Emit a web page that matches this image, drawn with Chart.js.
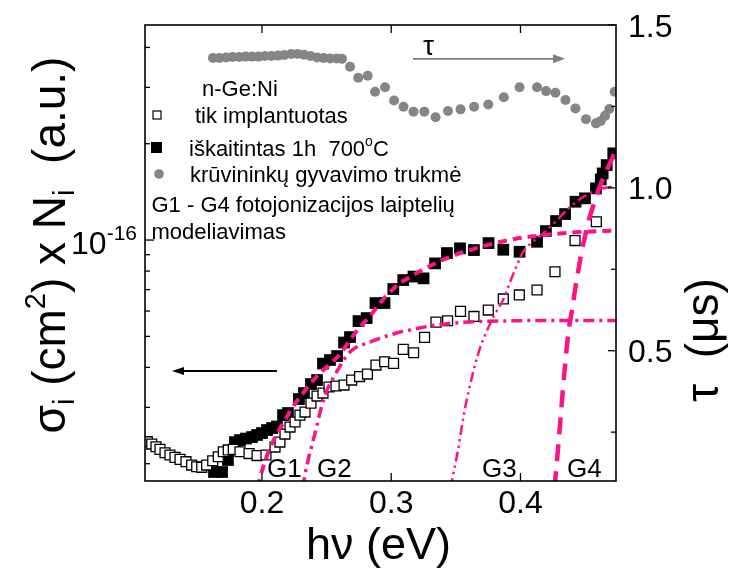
<!DOCTYPE html>
<html><head><meta charset="utf-8">
<script src="https://cdn.jsdelivr.net/npm/chart.js@4/dist/chart.umd.min.js"></script>
<style>html,body{margin:0;padding:0;background:#fff}#wrap{width:730px;height:570px}</style>
</head><body><div id="wrap"><canvas id="c" width="730" height="570"></canvas></div>
<script>
const FONT = '"Liberation Sans", Arial, Helvetica, sans-serif';
const PINK = '#ff1188';
const GRAY = '#858585';

// axis ranges and ticks
const xMin = 0.1095, xMax = 0.4739;
const yMin = 1.766e-17, yMax = 4.70e-16;
const tauMin = 0.1, tauMax = 1.5;
const xTicks = [0.2, 0.3, 0.4];
const xTickLabels = ['0.2', '0.3', '0.4'];
const yMajorTicks = [1e-16];
const yMinorTicks = [2e-17, 3e-17, 4e-17, 5e-17, 6e-17, 7e-17, 8e-17, 9e-17, 2e-16, 3e-16, 4e-16];
const tauMajorTicks = [0.5, 1.0, 1.5];
const tauTickLabels = ['0.5', '1.0', '1.5'];
const tauMinorTicks = [0.25, 0.75, 1.25];

// "tik implantuotas" (open squares)
const openX = [0.1113,0.1147,0.1180,0.1211,0.1250,0.1288,0.1327,0.1366,0.1412,0.1456,
  0.1495,0.1534,0.1572,0.1619,0.1662,0.1701,0.1739,0.1778,0.1830,0.1900,
  0.1962,0.2031,0.2101,0.2139,0.2178,0.2217,0.2256,0.2294,0.2333,0.2379,
  0.2426,0.2472,0.2519,0.2573,0.2635,0.2694,0.2755,0.2816,0.2882,0.2949,
  0.3018,0.3093,0.3173,0.3258,0.3346,0.3436,0.3536,0.3640,0.3751,0.3867,
  0.3991,0.4128,0.4267,0.4422,0.4587];
const openY = [2.343e-17,2.304e-17,2.260e-17,2.218e-17,2.164e-17,2.129e-17,2.094e-17,2.064e-17,2.029e-17,1.981e-17,
  1.957e-17,1.949e-17,1.981e-17,2.043e-17,2.103e-17,2.180e-17,2.208e-17,2.218e-17,2.180e-17,2.152e-17,
  2.121e-17,2.129e-17,2.255e-17,2.337e-17,2.476e-17,2.604e-17,2.700e-17,2.838e-17,2.901e-17,3.094e-17,
  3.254e-17,3.326e-17,3.473e-17,3.498e-17,3.523e-17,3.652e-17,3.745e-17,3.813e-17,4.068e-17,4.166e-17,
  4.118e-17,4.555e-17,4.445e-17,4.965e-17,5.542e-17,5.596e-17,5.986e-17,5.770e-17,6.043e-17,6.545e-17,
  6.736e-17,6.981e-17,7.962e-17,9.964e-17,1.1408e-16];

// "iškaitintas 1h 700°C" (filled squares)
const filledX = [0.1629,0.1691,0.1737,0.1791,0.1830,0.1876,0.1923,0.1962,0.2000,0.2039,
  0.2078,0.2116,0.2163,0.2201,0.2286,0.2325,0.2379,0.2426,0.2472,0.2526,
  0.2581,0.2635,0.2681,0.2747,0.2810,0.2878,0.2948,0.3016,0.3093,0.3172,
  0.3250,0.3339,0.3431,0.3532,0.3640,0.3753,0.3867,0.3993,0.4128,0.4197,
  0.4275,0.4345,0.4426,0.4499,0.4584,0.4621,0.4636,0.4667,0.4718];
const filledY = [1.884e-17,1.884e-17,2.054e-17,2.337e-17,2.371e-17,2.397e-17,2.423e-17,2.459e-17,2.494e-17,2.548e-17,
  2.585e-17,2.614e-17,2.838e-17,2.880e-17,3.185e-17,3.326e-17,3.548e-17,3.652e-17,4.111e-17,4.217e-17,
  4.340e-17,4.783e-17,4.975e-17,5.582e-17,5.704e-17,6.355e-17,6.355e-17,7.030e-17,7.499e-17,7.690e-17,
  7.591e-17,8.455e-17,9.107e-17,9.421e-17,9.306e-17,9.786e-17,9.326e-17,9.193e-17,9.878e-17,1.0669e-16,
  1.1466e-16,1.2058e-16,1.3176e-16,1.3502e-16,1.4504e-16,1.5474e-16,1.6156e-16,1.7154e-16,1.8663e-16];

// carrier lifetime tau (us), right axis
const tauX = [0.1621,0.1671,0.1722,0.1772,0.1822,0.1873,0.1923,0.1973,0.2023,0.2074,0.2124,0.2174,0.2225,0.2275,0.2325,0.2376,0.2426,0.2476,0.2526,0.2577,0.2619,
  0.2681,0.2745,0.2818,0.2875,0.2952,0.3022,0.3095,0.3172,0.3256,0.3343,0.3439,0.3536,0.3641,0.3751,0.3871,0.3993,0.4128,0.4198,0.4270,0.4348,0.4425,0.4507,0.4584,0.4621,0.4654,0.4687,0.4729];
const tauY = [1.399,1.399,1.400,1.402,1.402,1.403,1.403,1.403,1.405,1.405,1.406,1.408,1.411,1.411,1.409,1.405,1.400,1.399,1.397,1.397,1.396,
  1.372,1.338,1.344,1.295,1.309,1.268,1.249,1.234,1.234,1.217,1.236,1.241,1.249,1.256,1.278,1.309,1.309,1.297,1.292,1.270,1.244,1.211,1.198,1.205,1.221,1.242,1.295];

// G1 - G4 photoionisation step modelling curves
const g1X = [0.1966,0.2000,0.2062,0.2124,0.2178,0.2232,0.2294,0.2372,0.2449,0.2526,0.2604,0.2681,0.2758,0.2836,0.2913,0.2991,0.3068,0.3145,0.3223,0.3300,0.3377,0.3455,0.3532,0.3610,0.3687,0.3842,0.3996,0.4151,0.4306,0.4461,0.4615,0.4770];
const g1Y = [1.679e-17,1.897e-17,2.239e-17,2.512e-17,2.738e-17,2.985e-17,3.231e-17,3.548e-17,3.841e-17,4.097e-17,4.401e-17,4.870e-17,5.346e-17,5.788e-17,6.355e-17,6.879e-17,7.338e-17,7.662e-17,8.000e-17,8.293e-17,8.598e-17,8.849e-17,9.107e-17,9.306e-17,9.509e-17,9.857e-17,1.0145e-16,1.0329e-16,1.0479e-16,1.0593e-16,1.0669e-16,1.0707e-16];
const g2X = [0.2314,0.2348,0.2387,0.2426,0.2464,0.2503,0.2542,0.2604,0.2658,0.2720,0.2774,0.2836,0.2913,0.2991,0.3068,0.3184,0.3300,0.3416,0.3532,0.3687,0.3842,0.4151,0.4770];
const g2Y = [1.679e-17,1.981e-17,2.288e-17,2.641e-17,3.050e-17,3.398e-17,3.652e-17,4.039e-17,4.371e-17,4.597e-17,4.698e-17,4.800e-17,4.940e-17,5.048e-17,5.158e-17,5.272e-17,5.387e-17,5.464e-17,5.524e-17,5.564e-17,5.584e-17,5.604e-17,5.604e-17];
const g3X = [0.3459,0.3486,0.3517,0.3548,0.3579,0.3610,0.3648,0.3687,0.3726,0.3764,0.3803,0.3865,0.3919,0.3973,0.4020,0.4074,0.4151,0.4229,0.4306,0.4383,0.4461,0.4538,0.4615,0.4693,0.4770];
const g3Y = [1.679e-17,1.910e-17,2.207e-17,2.641e-17,3.096e-17,3.522e-17,4.068e-17,4.597e-17,5.048e-17,5.464e-17,5.870e-17,6.494e-17,7.392e-17,8.356e-17,9.173e-17,9.716e-17,1.0292e-16,1.0981e-16,1.1800e-16,1.2679e-16,1.3428e-16,1.4024e-16,1.4424e-16,1.4642e-16,1.4748e-16];
const g4X = [0.4263,0.4283,0.4298,0.4314,0.4329,0.4345,0.4360,0.4375,0.4399,0.4422,0.4445,0.4476,0.4507,0.4538,0.4577,0.4615,0.4654,0.4693,0.4731,0.4770];
const g4Y = [1.679e-17,2.054e-17,2.423e-17,2.901e-17,3.447e-17,4.068e-17,4.698e-17,5.309e-17,6.043e-17,6.981e-17,7.943e-17,9.306e-17,1.0593e-16,1.1885e-16,1.3335e-16,1.4748e-16,1.6077e-16,1.7402e-16,1.8836e-16,2.0244e-16];

// annotation anchors (data space)
const gLabels = ['G1', 'G2', 'G3', 'G4'];
const gLabelX = [0.2039, 0.2426, 0.3702, 0.4360];
const gLabelY = 1.82e-17;
const tauArrow = {from: 0.3168, to: 0.4345, at: 1.396};
const tauArrowLabel = {x: 0.3246, y: 1.408};
const leftArrow = {from: 0.2116, to: 0.1304, at: 3.9e-17};

const zip = (xs, ys) => xs.map((v, i) => ({x: v, y: ys[i]}));
const curve = (label, xs, ys, dash, w, order) => ({
  label, data: zip(xs, ys), showLine: true, pointRadius: 0, borderColor: PINK,
  borderWidth: w, borderDash: dash, cubicInterpolationMode: 'monotone', fill: false, order, clip: 0
});

function drawRich(ctx, parts, x, y, align, rot) {
  ctx.save();
  ctx.translate(x, y);
  if (rot) ctx.rotate(rot);
  let w = 0;
  for (const p of parts) { ctx.font = p.s + 'px ' + FONT; w += ctx.measureText(p.t).width; }
  let cx = align === 'center' ? -w / 2 : (align === 'right' ? -w : 0);
  ctx.textAlign = 'left';
  ctx.textBaseline = 'alphabetic';
  for (const p of parts) {
    ctx.font = p.s + 'px ' + FONT;
    ctx.fillText(p.t, cx, p.dy || 0);
    cx += ctx.measureText(p.t).width;
  }
  ctx.restore();
}

function arrow(ctx, x0, y0, x1, y1, color, lw, hl, hw) {
  const ang = Math.atan2(y1 - y0, x1 - x0);
  ctx.save();
  ctx.strokeStyle = color; ctx.fillStyle = color; ctx.lineWidth = lw;
  ctx.beginPath(); ctx.moveTo(x0, y0);
  ctx.lineTo(x1 - Math.cos(ang) * hl * 0.8, y1 - Math.sin(ang) * hl * 0.8); ctx.stroke();
  ctx.translate(x1, y1); ctx.rotate(ang);
  ctx.beginPath(); ctx.moveTo(0, 0); ctx.lineTo(-hl, -hw); ctx.lineTo(-hl, hw); ctx.closePath(); ctx.fill();
  ctx.restore();
}

const decor = {
  id: 'decor',
  afterDatasetsDraw(chart) {
    const ctx = chart.ctx, a = chart.chartArea;
    const sx = chart.scales.x, sy = chart.scales.y, st = chart.scales.y2;
    ctx.save();
    ctx.strokeStyle = '#000'; ctx.lineWidth = 1.6;
    ctx.strokeRect(a.left, a.top, a.right - a.left, a.bottom - a.top);
    const seg = (x0, y0, x1, y1) => { ctx.beginPath(); ctx.moveTo(x0, y0); ctx.lineTo(x1, y1); ctx.stroke(); };
    ctx.lineWidth = 1.3;
    xTicks.forEach(v => { const p = sx.getPixelForValue(v); seg(p, a.bottom, p, a.bottom - 8); seg(p, a.top, p, a.top + 8); });
    yMajorTicks.forEach(v => { const p = sy.getPixelForValue(v); seg(a.left, p, a.left + 9, p); });
    yMinorTicks.forEach(v => { const p = sy.getPixelForValue(v); seg(a.left, p, a.left + 5, p); });
    tauMajorTicks.forEach(v => { const p = st.getPixelForValue(v); seg(a.right, p, a.right - 8, p); });
    tauMinorTicks.forEach(v => { const p = st.getPixelForValue(v); seg(a.right, p, a.right - 5, p); });

    ctx.fillStyle = '#000';
    // x tick labels
    ctx.font = '32px ' + FONT; ctx.textAlign = 'center'; ctx.textBaseline = 'alphabetic';
    xTicks.forEach((v, i) => ctx.fillText(xTickLabels[i], sx.getPixelForValue(v), a.bottom + 32));
    // right tick labels
    ctx.textAlign = 'left';
    tauMajorTicks.forEach((v, i) => ctx.fillText(tauTickLabels[i], a.right + 12, st.getPixelForValue(v) + 11.5));
    // left major tick label 10^-16
    yMajorTicks.forEach(v => {
      const p = sy.getPixelForValue(v);
      drawRich(ctx, [{t: '10', s: 32}, {t: '-16', s: 21, dy: -14}], a.left - 8, p + 14, 'right');
    });
    // axis titles
    drawRich(ctx, [{t: 'h\u03bd (eV)', s: 45}], (a.left + a.right) / 2 - 2, 559, 'center');
    drawRich(ctx, [{t: '\u03c3', s: 46}, {t: 'i', s: 29, dy: 9}, {t: ' (cm', s: 46}, {t: '2', s: 29, dy: -20},
      {t: ') x N', s: 46}, {t: 'i', s: 29, dy: 9}, {t: '  (a.u.)', s: 46}], 65, 245, 'center', -Math.PI / 2);
    drawRich(ctx, [{t: '\u03c4  (\u03bcs)', s: 46}], 718, 340, 'center', -Math.PI / 2);

    // legend block
    const L = a.left;
    ctx.font = '22px ' + FONT; ctx.textAlign = 'left'; ctx.fillStyle = '#000';
    ctx.fillText('n-Ge:Ni', L + 57, 95.5);
    ctx.fillText('tik implantuotas', L + 50, 123);
    drawRich(ctx, [{t: 'i\u0161kaitintas 1h  700', s: 22}, {t: 'o', s: 14, dy: -10}, {t: 'C', s: 22}], L + 44, 156, 'left');
    ctx.font = '22px ' + FONT;
    ctx.fillText('kr\u016bvinink\u0173 gyvavimo trukm\u0117', L + 45, 181.5);
    ctx.fillText('G1 - G4 fotojonizacijos laipteli\u0173', L + 6.5, 212);
    ctx.fillText('modeliavimas', L + 6.5, 239);
    // legend markers
    ctx.fillStyle = '#fff'; ctx.strokeStyle = '#000'; ctx.lineWidth = 1.2;
    ctx.fillRect(L + 8, 111, 8, 8); ctx.strokeRect(L + 8, 111, 8, 8);
    ctx.fillStyle = '#000'; ctx.fillRect(L + 6, 142, 11, 11);
    ctx.fillStyle = GRAY; ctx.beginPath(); ctx.arc(L + 14, 174, 4.8, 0, Math.PI * 2); ctx.fill();

    // G labels
    ctx.fillStyle = '#000'; ctx.font = '26px ' + FONT; ctx.textAlign = 'left';
    gLabels.forEach((g, i) => ctx.fillText(g, sx.getPixelForValue(gLabelX[i]), sy.getPixelForValue(gLabelY)));

    // tau arrow + label
    const ty = st.getPixelForValue(tauArrow.at);
    arrow(ctx, sx.getPixelForValue(tauArrow.from), ty, sx.getPixelForValue(tauArrow.to), ty, '#808080', 1.8, 12, 4.5);
    ctx.fillStyle = '#000'; ctx.font = '28px ' + FONT;
    ctx.fillText('\u03c4', sx.getPixelForValue(tauArrowLabel.x), st.getPixelForValue(tauArrowLabel.y));
    // left-pointing arrow
    const ly = sy.getPixelForValue(leftArrow.at);
    arrow(ctx, sx.getPixelForValue(leftArrow.from), ly, sx.getPixelForValue(leftArrow.to), ly, '#000', 2, 12, 4);
    ctx.restore();
  }
};

new Chart(document.getElementById('c'), {
  type: 'scatter',
  data: {
    datasets: [
      curve('G1', g1X, g1Y, [9, 6], 4, 1),
      curve('G2', g2X, g2Y, [11, 5, 3, 5], 3.5, 2),
      curve('G3', g3X, g3Y, [10, 4, 2.5, 4, 2.5, 4], 2.5, 3),
      curve('G4', g4X, g4Y, [17, 10], 4.5, 4),
      {label: 'tik implantuotas', data: zip(openX, openY), pointStyle: 'rect', pointRadius: 7,
        backgroundColor: '#fff', borderColor: '#000', borderWidth: 1.3, order: 5, clip: 0},
      {label: 'iškaitintas 1h 700°C', data: zip(filledX, filledY), pointStyle: 'rect', pointRadius: 8.3,
        backgroundColor: '#000', borderColor: '#000', borderWidth: 0, order: 6, clip: 0},
      {label: 'krūvininkų gyvavimo trukmė', data: zip(tauX, tauY), yAxisID: 'y2', pointStyle: 'circle', pointRadius: 5,
        backgroundColor: GRAY, borderColor: GRAY, borderWidth: 0, order: 7, clip: 0}
    ]
  },
  options: {
    responsive: false, animation: false, devicePixelRatio: 1, events: [],
    layout: {padding: {left: 145, right: 114, top: 25, bottom: 89}},
    plugins: {legend: {display: false}, tooltip: {enabled: false}},
    scales: {
      x: {type: 'linear', min: xMin, max: xMax, display: false},
      y: {type: 'logarithmic', min: yMin, max: yMax, display: false},
      y2: {type: 'linear', position: 'right', min: tauMin, max: tauMax, display: false}
    }
  },
  plugins: [decor]
});
</script></body></html>
